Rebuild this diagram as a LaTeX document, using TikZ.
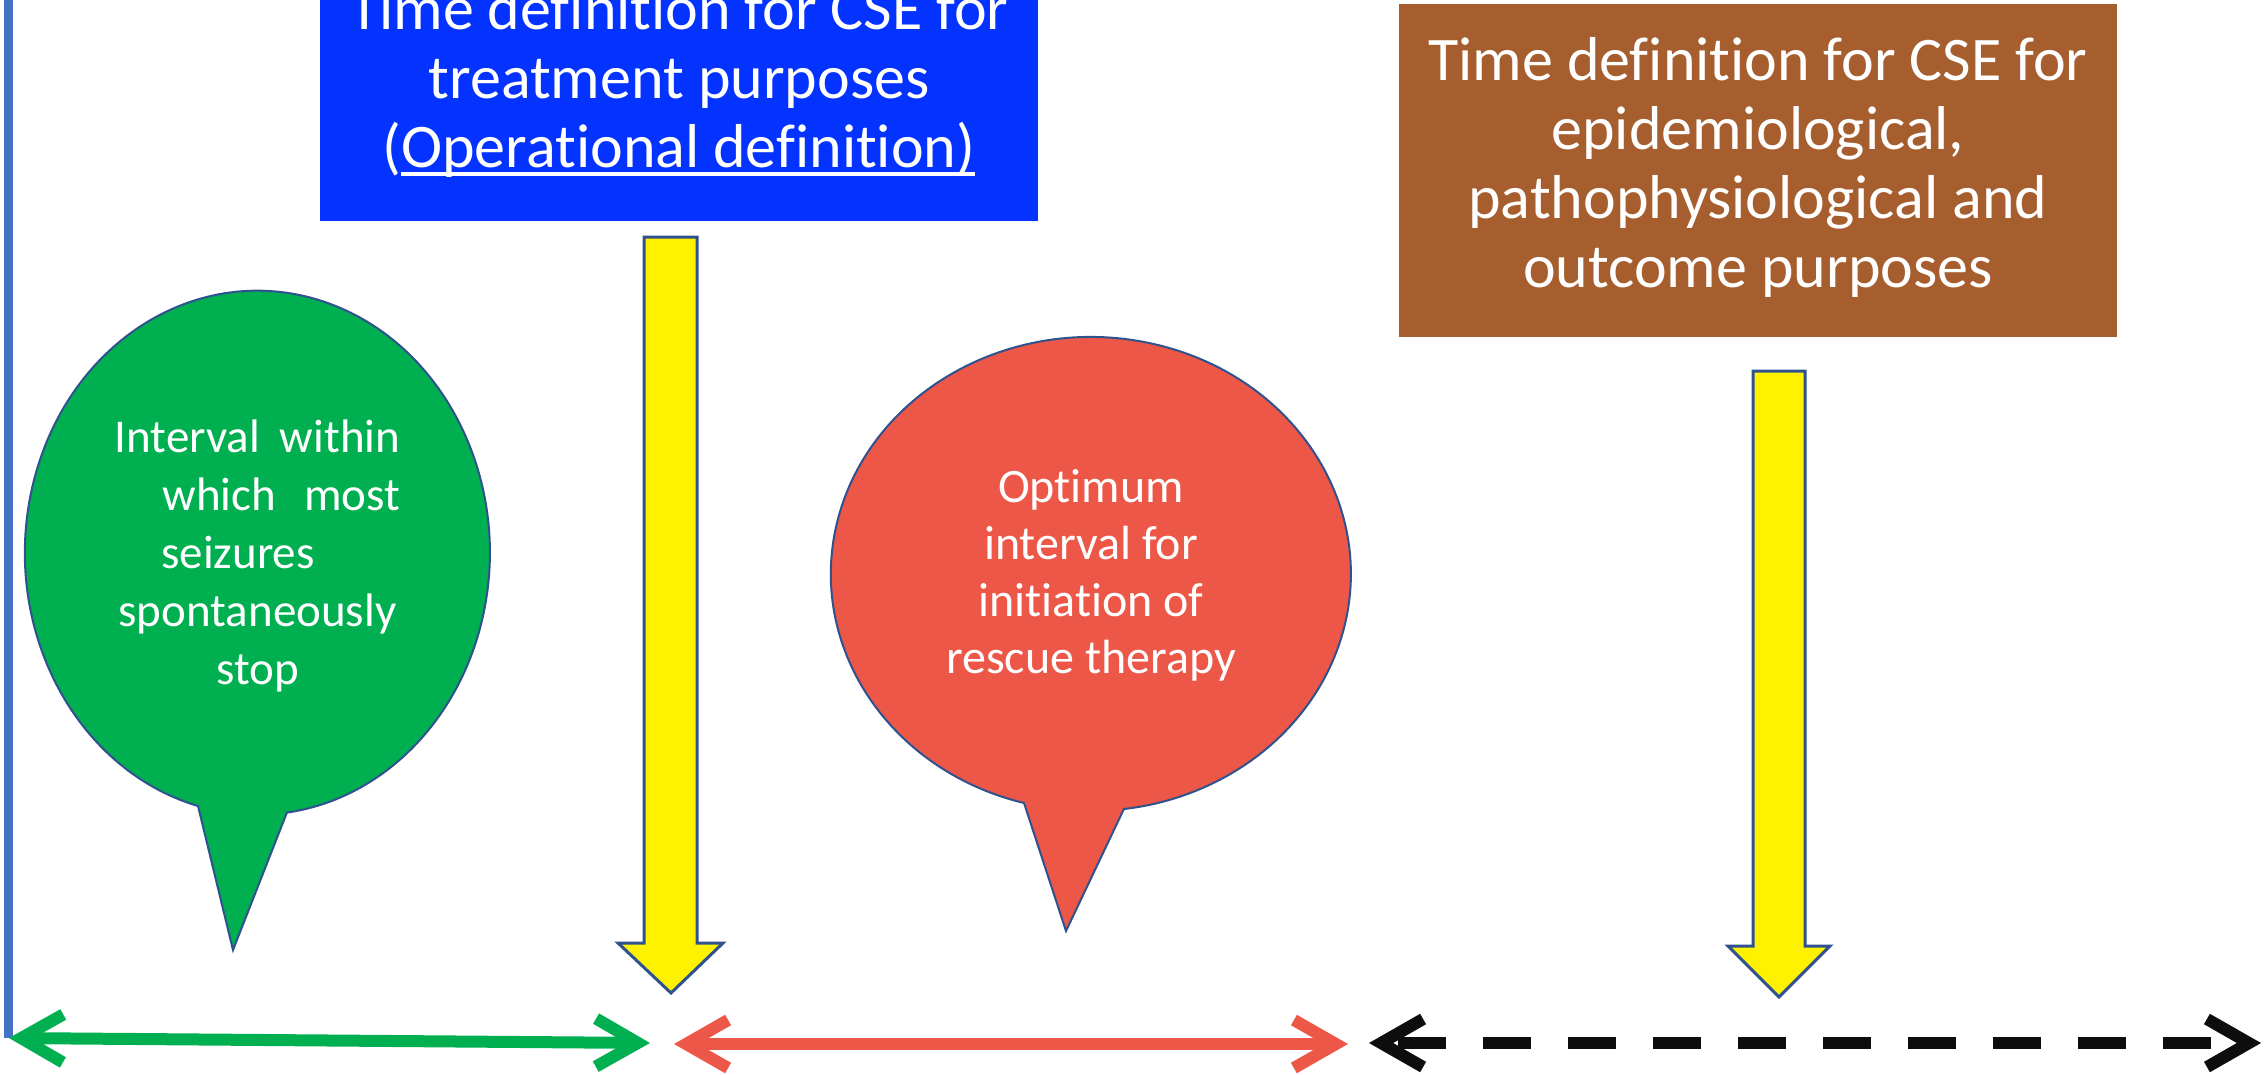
\documentclass[tikz,border=0pt]{standalone}
\usepackage{fontspec}
\setmainfont{Carlito}[Ligatures={NoCommon,NoContextual},Contextuals={NoAlternate}]
\usetikzlibrary{arrows.meta}
\definecolor{greenB}{RGB}{0,176,80}
\definecolor{redB}{RGB}{237,87,71}
\definecolor{blueBox}{RGB}{4,51,255}
\definecolor{brownBox}{RGB}{166,94,46}
\definecolor{outlineB}{RGB}{47,82,143}
\definecolor{vlineC}{RGB}{68,114,196}
\definecolor{dashK}{RGB}{13,13,13}
\newcommand\ulx[1]{\setbox0=\hbox{#1}\rlap{\rule[-9pt]{\wd0}{4pt}}\box0}
\begin{document}
\begin{tikzpicture}[x=1pt,y=-1pt,
  boxtext/.style={anchor=base, inner sep=0pt, text=white,
     font=\fontsize{62}{69}\selectfont},
  bubtext/.style={anchor=base, inner sep=0pt, text=white,
     font=\fontsize{47}{58}\selectfont},
  yarrow/.style={fill=yellow, draw=outlineB, line width=3pt, line join=miter},
  bubble/.style={draw=outlineB, line width=2pt},
  tl/.style={line width=12pt, {Straight Barb[length=42pt,width=48pt]}-{Straight Barb[length=42pt,width=48pt]}}]
\useasboundingbox (0,0) rectangle (2266,1074);
\clip (0,0) rectangle (2266,1074);

% vertical time-zero line
\coordinate (vtop) at (8,0);
\coordinate (vbot) at (8,1038);
\draw[vlineC, line width=9pt] (vtop) -- (vbot);

% blue box
\fill[blueBox] (320,-80) rectangle (1038,221);
\node[boxtext] (bluetext) at (679,29) {\begin{tabular}[t]{@{}c@{}}Time definition for CSE for\\ treatment purposes\\ (\ulx{Operational definition)}\end{tabular}};

% brown box
\fill[brownBox] (1399,4) rectangle (2117,337);
\node[boxtext] (browntext) at (1758,80) {\begin{tabular}[t]{@{}c@{}}Time definition for CSE for\\ epidemiological,\\ pathophysiological and\\ outcome purposes\end{tabular}};

% yellow arrows
\draw[yarrow] (644,237) -- (697,237) -- (697,943) -- (723,943) -- (671,993) -- (618,943) -- (644,943) -- cycle;
\draw[yarrow] (1753,371) -- (1805,371) -- (1805,946) -- (1830,946) -- (1779,997) -- (1728,946) -- (1753,946) -- cycle;

% green bubble
\filldraw[bubble, fill=greenB] (233,950) -- (198,806)
   arc[start angle=104.8, end angle=442.7, x radius=232.5, y radius=262] -- cycle;
\node[bubtext] (greentext) at (257.5,452) {\begin{tabular}[t]{@{}c@{}}Interval\hspace{0.42em}within\\ \hspace*{48pt}which\hspace{0.6em}most\\ seizures\hspace*{39pt}\\ spontaneously\\ stop\end{tabular}};

% red bubble
\filldraw[bubble, fill=redB] (1066,931) -- (1024,803)
   arc[start angle=104.9, end angle=442.7, x radius=260, y radius=237] -- cycle;
\node[bubtext, font=\fontsize{48}{57}\selectfont] (redtext) at (1091,502) {\begin{tabular}[t]{@{}c@{}}Optimum\\ interval for\\ initiation of\\ rescue therapy\end{tabular}};

% time intervals
\coordinate (g1) at (9,1038);
\coordinate (g2) at (650,1043);
\coordinate (r1) at (674,1044);
\coordinate (r2) at (1348,1044);
\coordinate (k1) at (1369,1043);
\coordinate (k2) at (2261,1043);
\draw[tl, greenB] (g1) -- (g2);
\draw[tl, redB] (r1) -- (r2);
\draw[tl, dashK, dash pattern=on 48pt off 37pt, dash phase=74pt] (k1) -- (k2);
\end{tikzpicture}
\end{document}
